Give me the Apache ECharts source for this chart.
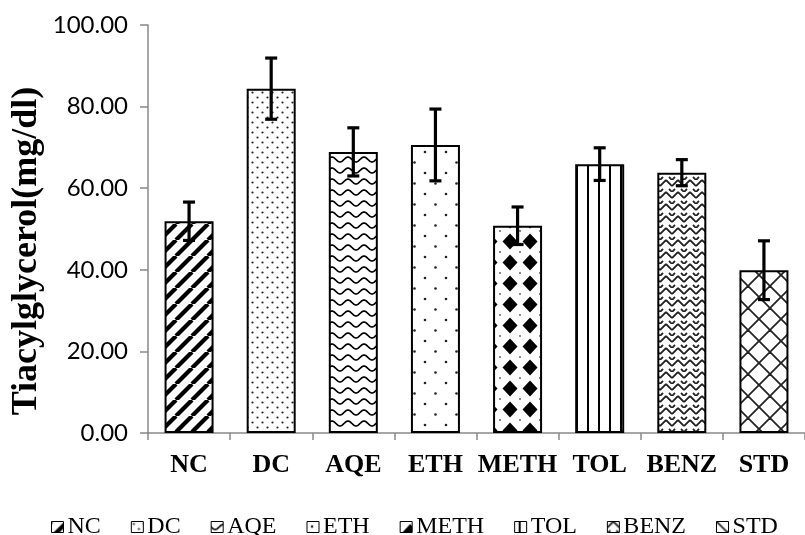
<!DOCTYPE html>
<html>
<head>
<meta charset="utf-8">
<script src="https://cdn.jsdelivr.net/npm/echarts@6/dist/echarts.min.js"></script>
<style>html,body{margin:0;padding:0;background:#fff}#c{width:805px;height:535px}</style>
</head>
<body>
<div id="c"></div>
<script>
// ---- data ----
const categories = ['NC', 'DC', 'AQE', 'ETH', 'METH', 'TOL', 'BENZ', 'STD'];
const means = [51.9, 84.4, 68.9, 70.6, 50.8, 65.9, 63.8, 39.9];
const errors = [4.7, 7.5, 5.9, 8.8, 4.6, 4.0, 3.2, 7.2];
const yMin = 0, yMax = 100, yInterval = 20;
const yTitle = 'Tiacylglycerol(mg/dl)';

// ---- patterns ----
function tile(w, h, draw) {
  const c = document.createElement('canvas');
  c.width = w; c.height = h;
  const ctx = c.getContext('2d');
  ctx.fillStyle = '#fff'; ctx.fillRect(0, 0, w, h);
  ctx.strokeStyle = '#000'; ctx.fillStyle = '#000';
  draw(ctx, w, h);
  return { image: c, repeat: 'repeat' };
}
function seg(ctx, x1, y1, x2, y2) { ctx.beginPath(); ctx.moveTo(x1, y1); ctx.lineTo(x2, y2); ctx.stroke(); }
function dot(ctx, x, y, r) { ctx.beginPath(); ctx.arc(x, y, r, 0, Math.PI * 2); ctx.fill(); }

const patterns = [
  // NC: thick diagonal stripes
  tile(16, 16, (ctx, w, h) => {
    ctx.lineWidth = 4.2;
    for (const o of [-w, 0, w]) seg(ctx, o, h, o + w, 0);
  }),
  // DC: dense dots
  tile(10, 10, (ctx) => {
    ctx.fillStyle = '#222';
    dot(ctx, 2.5, 2.5, 1.1); dot(ctx, 7.5, 7.5, 1.1);
  }),
  // AQE: waves
  tile(16, 11, (ctx, w, h) => {
    ctx.lineWidth = 1.7;
    ctx.beginPath();
    for (let x = -1; x <= w + 1; x += 0.5) {
      const y = 5.5 + 2.5 * Math.sin(2 * Math.PI * x / w);
      if (x === -1) ctx.moveTo(x, y); else ctx.lineTo(x, y);
    }
    ctx.stroke();
  }),
  // ETH: sparse dots
  tile(21, 21, (ctx) => {
    ctx.fillStyle = '#222';
    dot(ctx, 5, 5, 1.3); dot(ctx, 15.5, 15.5, 1.3);
  }),
  // METH: black diamonds
  tile(20, 21, (ctx) => {
    ctx.beginPath();
    ctx.moveTo(10, 2.5); ctx.lineTo(17.5, 10.5); ctx.lineTo(10, 18.5); ctx.lineTo(2.5, 10.5);
    ctx.closePath(); ctx.fill();
    ctx.fillStyle = '#555';
    dot(ctx, 0, 0, 0.9); dot(ctx, 20, 0, 0.9); dot(ctx, 0, 21, 0.9); dot(ctx, 20, 21, 0.9);
  }),
  // TOL: vertical lines
  tile(11, 4, (ctx) => { ctx.fillRect(4, 0, 2, 4); }),
  // BENZ: herringbone weave
  tile(12, 12, (ctx, w, h) => {
    ctx.lineWidth = 1.8; ctx.strokeStyle = '#222';
    for (const o of [-12, 0, 12]) {
      seg(ctx, 0, 6 + o, 6, 0 + o);
      seg(ctx, 6, 0 + o, 12, 6 + o);
    }
    seg(ctx, 0, 12, 3, 9);
    seg(ctx, 9, 9, 12, 12);
  }),
  // STD: diagonal crosshatch
  tile(22, 22, (ctx, w, h) => {
    ctx.lineWidth = 1.8; ctx.strokeStyle = '#222';
    for (const o of [-w, 0, w]) { seg(ctx, o, 0, o + w, h); seg(ctx, o + w, 0, o, h); }
  })
];

// ---- series ----
const series = categories.map((name, i) => ({
  name: name,
  type: 'bar',
  barWidth: 49,
  barGap: '-100%',
  data: categories.map((c, j) => (j === i ? means[i] : '-')),
  itemStyle: { color: patterns[i], borderColor: '#000', borderWidth: 2 },
  emphasis: { disabled: true },
  z: 2
}));

series.push({
  type: 'custom',
  name: 'err',
  z: 5,
  data: categories.map((c, i) => [i, means[i] - errors[i], means[i] + errors[i]]),
  renderItem: function (params, api) {
    const x = api.value(0);
    const lo = api.coord([x, api.value(1)]);
    const hi = api.coord([x, api.value(2)]);
    const cw = 6;
    const st = { stroke: '#000', lineWidth: 3.2 };
    return {
      type: 'group',
      children: [
        { type: 'line', shape: { x1: hi[0], y1: hi[1], x2: lo[0], y2: lo[1] }, style: st },
        { type: 'line', shape: { x1: hi[0] - cw, y1: hi[1], x2: hi[0] + cw, y2: hi[1] }, style: st },
        { type: 'line', shape: { x1: lo[0] - cw, y1: lo[1], x2: lo[0] + cw, y2: lo[1] }, style: st }
      ]
    };
  }
});

const chart = echarts.init(document.getElementById('c'), null, { renderer: 'canvas' });
chart.setOption({
  animation: false,
  backgroundColor: '#fff',
  grid: { left: 148, right: -7, top: 25, bottom: 102, containLabel: false },
  xAxis: {
    type: 'category',
    data: categories,
    axisLine: { lineStyle: { color: '#898989', width: 1.5 } },
    axisTick: { show: true, length: 7, lineStyle: { color: '#898989', width: 1.5 } },
    axisLabel: { interval: 0, color: '#000', fontFamily: 'Liberation Serif', fontWeight: 'bold', fontSize: 26, margin: 19 }
  },
  yAxis: {
    type: 'value',
    min: yMin, max: yMax, interval: yInterval,
    splitLine: { show: false },
    axisLine: { show: true, lineStyle: { color: '#898989', width: 1.5 } },
    axisTick: { show: true, length: 8, lineStyle: { color: '#898989', width: 1.5 } },
    axisLabel: { color: '#000', fontFamily: 'Lato', fontSize: 24, margin: 20, formatter: v => v.toFixed(2) }
  },
  legend: {
    data: categories,
    left: 46,
    top: 510,
    itemWidth: 12,
    itemHeight: 11,
    itemGap: 30,
    icon: 'rect',
    itemStyle: { borderWidth: 1, borderColor: '#000' },
    textStyle: { color: '#000', fontFamily: 'Liberation Serif', fontSize: 24, padding: [0, 0, 0, -1] }
  },
  graphic: [{
    type: 'text',
    x: 27, y: 251,
    rotation: Math.PI / 2,
    style: {
      text: yTitle,
      font: 'bold 36px "Liberation Serif"',
      fill: '#000',
      textAlign: 'center',
      textVerticalAlign: 'middle'
    }
  }],
  series: series
});
</script>
</body>
</html>
